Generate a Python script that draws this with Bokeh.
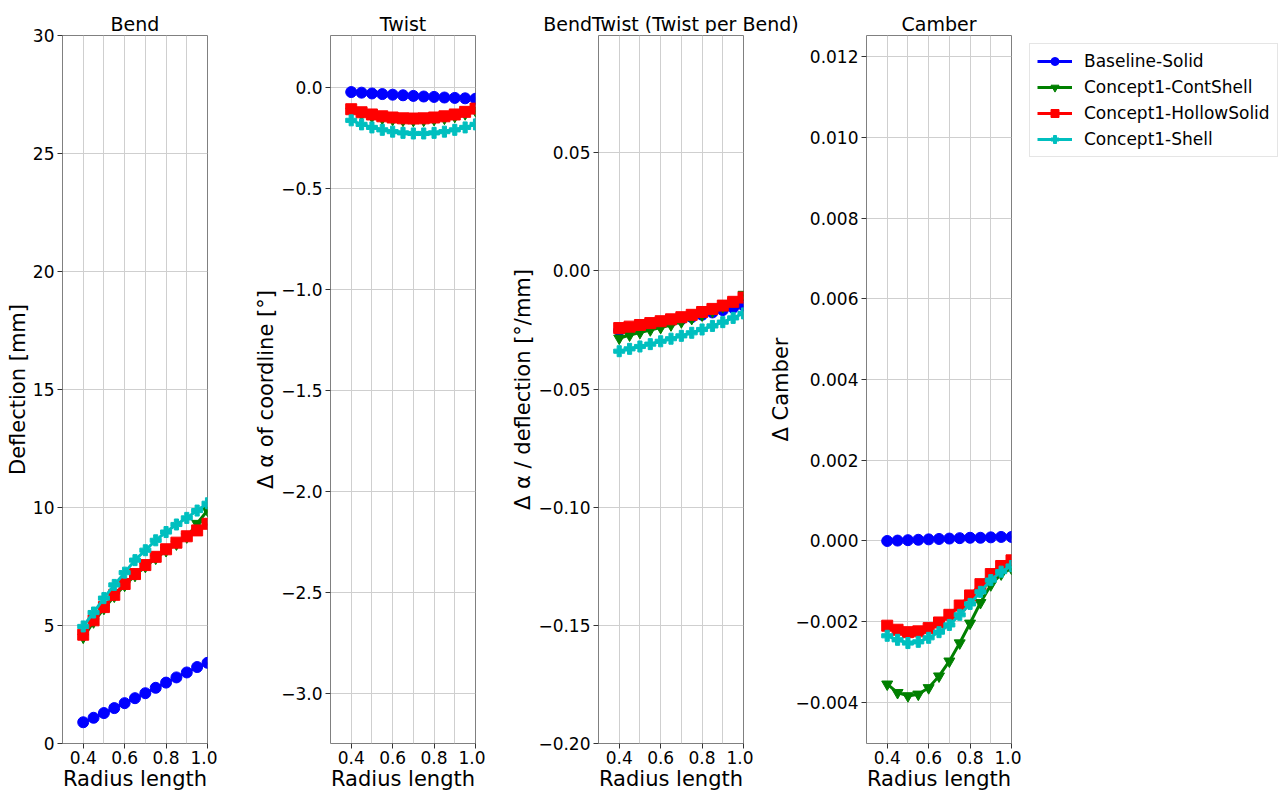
from bokeh.plotting import figure
from bokeh.layouts import row, column
from bokeh.models import Range1d, FixedTicker, CustomJSTickFormatter, Legend, LegendItem, Label
from bokeh.embed import file_html
from bokeh.resources import INLINE

radius = [0.4, 0.45, 0.5, 0.55, 0.6, 0.65, 0.7, 0.75, 0.8, 0.85, 0.9, 0.95, 1.0]
x_ticks = [0.4, 0.6, 0.8, 1.0]
x_grid = [0.4, 0.5, 0.6, 0.7, 0.8, 0.9, 1.0]
series_names = ["Baseline-Solid", "Concept1-ContShell", "Concept1-HollowSolid", "Concept1-Shell"]
panel_titles = ["Bend", "Twist", "BendTwist (Twist per Bend)", "Camber"]

bend_baseline = [0.90, 1.09, 1.29, 1.50, 1.71, 1.92, 2.13, 2.36, 2.58, 2.80, 3.01, 3.24, 3.42]
bend_contshell = [4.50, 5.15, 5.72, 6.24, 6.70, 7.12, 7.50, 7.85, 8.17, 8.45, 8.75, 9.32, 9.88]
bend_hollow = [4.61, 5.22, 5.78, 6.30, 6.76, 7.18, 7.56, 7.91, 8.23, 8.51, 8.78, 9.03, 9.31]
bend_shell = [4.96, 5.55, 6.16, 6.72, 7.24, 7.77, 8.19, 8.61, 8.96, 9.28, 9.56, 9.87, 10.18]

twist_baseline = [-0.025, -0.028, -0.032, -0.035, -0.038, -0.041, -0.044, -0.047, -0.049, -0.052, -0.054, -0.056, -0.058]
twist_contshell = [-0.120, -0.135, -0.146, -0.155, -0.161, -0.165, -0.166, -0.165, -0.161, -0.155, -0.146, -0.133, -0.117]
twist_hollow = [-0.110, -0.125, -0.136, -0.145, -0.151, -0.155, -0.156, -0.155, -0.151, -0.145, -0.136, -0.123, -0.107]
twist_shell = [-0.165, -0.185, -0.200, -0.212, -0.221, -0.227, -0.230, -0.230, -0.227, -0.221, -0.212, -0.200, -0.185]

bt_baseline = [-0.0252, -0.0245, -0.0238, -0.0230, -0.0222, -0.0214, -0.0205, -0.0196, -0.0186, -0.0176, -0.0166, -0.0156, -0.0146]
bt_contshell = [-0.0285, -0.0272, -0.0261, -0.0250, -0.0240, -0.0229, -0.0216, -0.0202, -0.0187, -0.0171, -0.0152, -0.0130, -0.0100]
bt_hollow = [-0.0242, -0.0236, -0.0229, -0.0221, -0.0213, -0.0205, -0.0196, -0.0186, -0.0174, -0.0161, -0.0147, -0.0131, -0.0113]
bt_shell = [-0.0340, -0.0330, -0.0320, -0.0310, -0.0298, -0.0287, -0.0275, -0.0262, -0.0248, -0.0233, -0.0217, -0.0199, -0.0180]

camber_baseline = [0.00000, 0.00001, 0.00002, 0.00003, 0.00004, 0.00005, 0.00006, 0.00007, 0.00008, 0.00008, 0.00009, 0.00010, 0.00010]
camber_contshell = [-0.00355, -0.00376, -0.00384, -0.00380, -0.00364, -0.00335, -0.00298, -0.00253, -0.00204, -0.00153, -0.00109, -0.00082, -0.00068]
camber_hollow = [-0.00210, -0.00220, -0.00226, -0.00224, -0.00216, -0.00202, -0.00183, -0.00160, -0.00135, -0.00107, -0.00082, -0.00062, -0.00048]
camber_shell = [-0.00235, -0.00245, -0.00253, -0.00250, -0.00240, -0.00226, -0.00208, -0.00183, -0.00156, -0.00126, -0.00097, -0.00076, -0.00062]

bend_ticks = [0, 5, 10, 15, 20, 25, 30]
twist_ticks = [0.0, -0.5, -1.0, -1.5, -2.0, -2.5, -3.0]
bt_ticks = [0.05, 0.0, -0.05, -0.10, -0.15, -0.20]
camber_ticks = [0.012, 0.010, 0.008, 0.006, 0.004, 0.002, 0.0, -0.002, -0.004]

colors = ["#0000ff", "#008000", "#ff0000", "#00bfbf"]
markers = ["circle", "inverted_triangle", "square", "plus"]
FONT = "DejaVu Sans"

TITLE_H = 33
PANEL_H = 793 - TITLE_H
P1_W = 217


def fmt(n):
    return CustomJSTickFormatter(code=(
        "var s = Math.abs(tick) < 1e-12 ? (0).toFixed(%d) : tick.toFixed(%d);"
        "return s.replace('-', '\\u2212');" % (n, n)))


def bare(p):
    p.axis.visible = False
    p.grid.visible = False
    p.outline_line_color = None
    p.background_fill_color = "white"
    p.border_fill_color = "white"


def make(ylabel, yr, yticks, nd, data, left, right, height, top, title=None):
    kw = {}
    if title:
        kw["title"] = title
    p = figure(width=left + 145 + right, height=height,
               x_range=Range1d(0.3, 1.0), y_range=Range1d(*yr),
               output_backend="svg", toolbar_location=None,
               min_border_left=left, min_border_right=right,
               min_border_top=top, min_border_bottom=45, **kw)
    if title:
        p.title.text_font = FONT
        p.title.text_font_size = "19px"
        p.title.text_font_style = "normal"
        p.title.text_color = "#000000"
        p.title.align = "center"
        p.title.standoff = 2
    p.outline_line_color = "#808080"
    p.outline_line_width = 1
    p.background_fill_color = "white"
    p.border_fill_color = "white"

    p.xaxis.ticker = FixedTicker(ticks=x_ticks)
    p.xaxis.formatter = fmt(1)
    p.yaxis.ticker = FixedTicker(ticks=yticks)
    p.yaxis.formatter = fmt(nd)
    p.xaxis.axis_label = "Radius length"
    p.yaxis.axis_label = ylabel
    for ax in (p.xaxis[0], p.yaxis[0]):
        ax.axis_line_color = None
        ax.major_tick_out = 5
        ax.major_tick_in = 0
        ax.minor_tick_out = 0
        ax.minor_tick_in = 0
        ax.major_tick_line_color = "#333333"
        ax.major_label_text_font = FONT
        ax.major_label_text_font_size = "17px"
        ax.major_label_text_color = "#000000"
        ax.major_label_standoff = 3
        ax.axis_label_text_font = FONT
        ax.axis_label_text_font_size = "21px"
        ax.axis_label_text_font_style = "normal"
        ax.axis_label_text_color = "#000000"
        ax.axis_label_standoff = 0
    p.xaxis[0].major_label_standoff = 2
    p.xgrid.ticker = FixedTicker(ticks=x_grid)
    p.ygrid.ticker = FixedTicker(ticks=yticks)
    for g in (p.xgrid[0], p.ygrid[0]):
        g.grid_line_color = "#cfcfcf"
        g.grid_line_width = 1

    for ys, c, m in zip(data, colors, markers):
        p.line(radius, ys, line_color=c, line_width=3)
        p.scatter(radius, ys, marker=m, size=11, fill_color=c, line_color=c)
    return p


p1 = make("Deflection [mm]", (0, 30), bend_ticks, 0,
          [bend_baseline, bend_contshell, bend_hollow, bend_shell], 62, 10,
          793, TITLE_H + 2, title=panel_titles[0])
p2 = make("\u0394 \u03b1 of coordline [\u00b0]", (-3.25, 0.255), twist_ticks, 1,
          [twist_baseline, twist_contshell, twist_hollow, twist_shell], 113, 10, PANEL_H, 2)
p3 = make("\u0394 \u03b1 / deflection [\u00b0/mm]", (-0.2, 0.0996), bt_ticks, 2,
          [bt_baseline, bt_contshell, bt_hollow, bt_shell], 113, 10, PANEL_H, 2)
p4 = make("\u0394 Camber", (-0.00502, 0.01253), camber_ticks, 3,
          [camber_baseline, camber_contshell, camber_hollow, camber_shell], 113, 10, PANEL_H, 2)

# legend panel to the right of the Camber panel; its renderers are hidden,
# only their legend keys are drawn
camber_series = [camber_baseline, camber_contshell, camber_hollow, camber_shell]
p5 = figure(width=1279 - (P1_W + 268 * 3), height=PANEL_H,
            x_range=Range1d(0.3, 1.0), y_range=Range1d(-0.00502, 0.01253),
            output_backend="svg", toolbar_location=None,
            min_border_left=0, min_border_right=0, min_border_top=2, min_border_bottom=45)
bare(p5)
items = []
for name, ys, c, m in zip(series_names, camber_series, colors, markers):
    lr = p5.line(radius, ys, line_color=c, line_width=3, visible=False)
    sr = p5.scatter(radius, ys, marker=m, size=11, fill_color=c, line_color=c, visible=False)
    items.append(LegendItem(label=name, renderers=[lr, sr]))
legend = Legend(items=items, location="top_left")
legend.margin = 8
legend.padding = 7
legend.spacing = 6
legend.glyph_width = 35
legend.glyph_height = 20
legend.label_standoff = 12
legend.label_height = 20
legend.label_text_font = FONT
legend.label_text_font_size = "17px"
legend.label_text_color = "#000000"
legend.border_line_color = "#cccccc"
legend.border_line_width = 1
legend.background_fill_alpha = 1.0
legend.click_policy = "none"
p5.add_layout(legend, "center")

# title strip over panels 2-4 (the BendTwist title is wider than its panel)
tf = figure(width=1279 - P1_W, height=TITLE_H, x_range=Range1d(0, 1279 - P1_W), y_range=Range1d(0, TITLE_H),
            output_backend="svg", toolbar_location=None,
            min_border=0, min_border_left=0, min_border_right=0,
            min_border_top=0, min_border_bottom=0)
bare(tf)
centers = [113 + 72.5, 268 + 113 + 72.5, 536 + 113 + 72.5]
for t, cx in zip(panel_titles[1:], centers):
    tf.add_layout(Label(x=cx, y=10, text=t,
                        text_align="center", text_baseline="middle",
                        text_font=FONT, text_font_size="19px", text_color="#000000"))

layout = row(p1, column(tf, row(p2, p3, p4, p5)))
open("out.html", "w").write(file_html(layout, INLINE))
